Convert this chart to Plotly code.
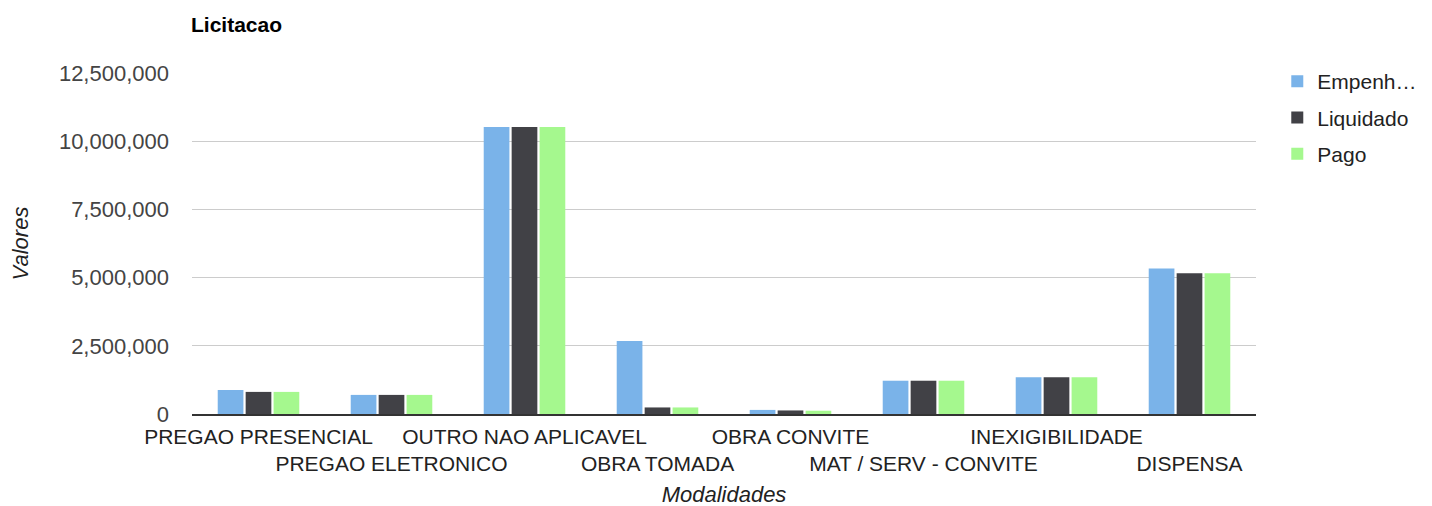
import plotly.graph_objects as go

categories = ["PREGAO PRESENCIAL", "PREGAO ELETRONICO", "OUTRO NAO APLICAVEL", "OBRA TOMADA",
              "OBRA CONVITE", "MAT / SERV - CONVITE", "INEXIGIBILIDADE", "DISPENSA"]
empenhado = [880000, 700000, 10520000, 2680000, 150000, 1220000, 1350000, 5330000]
liquidado = [810000, 700000, 10520000, 240000, 130000, 1220000, 1350000, 5160000]
pago = [810000, 700000, 10520000, 240000, 120000, 1220000, 1350000, 5160000]
series_names = ["Empenh…", "Liquidado", "Pago"]
colors = ["#7ab3e9", "#414146", "#a5f88e"]
y_ticks = [0, 2500000, 5000000, 7500000, 10000000, 12500000]
tick_labels = [c if i % 2 == 0 else "<br>" + c for i, c in enumerate(categories)]

FONT = "Arial, Liberation Sans, sans-serif"
fig = go.Figure()
for name, vals, col in zip(series_names, [empenhado, liquidado, pago], colors):
    fig.add_trace(go.Bar(x=categories, y=vals, name=name, marker_color=col,
                         marker_line_width=0, legendgroup=name))

fig.update_layout(
    width=1432, height=506,
    margin=dict(l=184, r=184, t=65, b=100, autoexpand=False),
    paper_bgcolor="white", plot_bgcolor="white",
    barmode="group", bargap=0.37, bargroupgap=0.08,
    font=dict(family=FONT, size=22, color="#222222"),
    title=dict(text="<b>Licitacao</b>", x=183 / 1432, xanchor="left", xref="container",
               y=1 - 17 / 506, yanchor="middle", font=dict(size=21, color="#000000")),
    legend=dict(x=1.02, y=1.035, xanchor="left", yanchor="top", tracegroupgap=6,
                font=dict(size=21, color="#222222"), bgcolor="rgba(0,0,0,0)"),
    showlegend=True,
)
fig.update_xaxes(
    tickmode="array", tickvals=categories, ticktext=tick_labels, tickangle=0,
    tickfont=dict(size=21, color="#222222"), showgrid=False, ticklabelstandoff=3,
    showline=True, linecolor="#333333", linewidth=1.5, ticks="",
    title=dict(text="<i>Modalidades</i>", font=dict(size=22, color="#222222"), standoff=12),
)
fig.update_yaxes(
    range=[0, 12500000], tickvals=y_ticks, tickformat=",d",
    tickfont=dict(size=22, color="#444444"), showgrid=True, gridcolor="#cccccc",
    gridwidth=1, zeroline=False, showline=False, ticks="", ticklabelstandoff=22,
    title=dict(text="<i>Valores</i>", font=dict(size=22, color="#222222"), standoff=35),
)
fig.write_html("out.html")
